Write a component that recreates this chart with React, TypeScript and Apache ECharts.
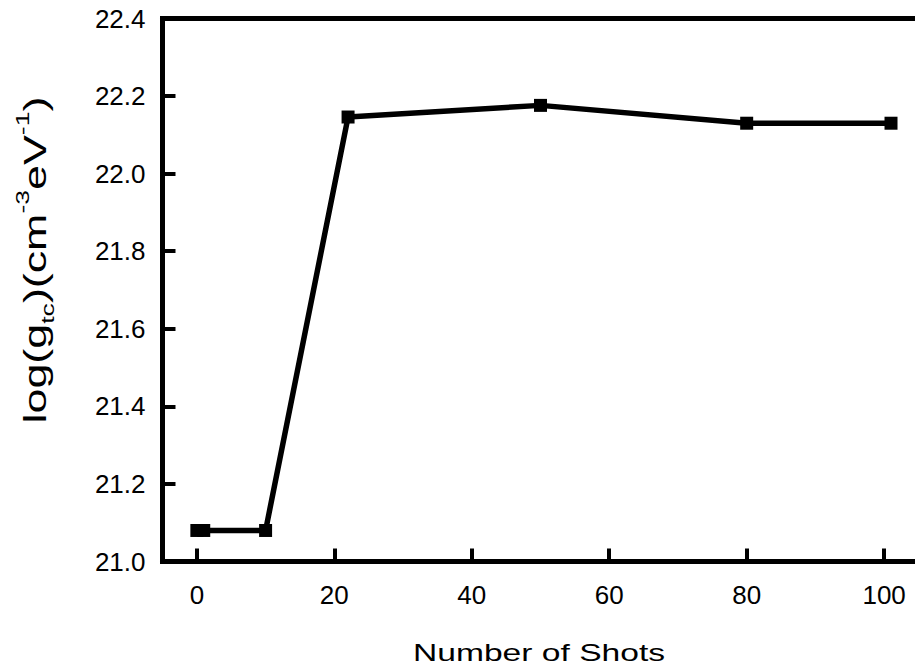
import React, { useEffect, useRef } from "react";
import * as echarts from "echarts";

const shots = [0, 1, 10, 22, 50, 80, 101];
const logGtc = [21.08, 21.08, 21.08, 22.146, 22.176, 22.13, 22.13];
const xTickValues = [0, 20, 40, 60, 80, 100];
const xTitle = "Number of Shots";
const yTitleRich = "{m|log(g}{sub|tc}{m|)(cm}{sup|-3}{m|eV}{sup|-1}{m|)}";

const FONT = "'Liberation Sans', Arial, sans-serif";

export default function App() {
  const ref = useRef<HTMLDivElement>(null);
  useEffect(() => {
    if (!ref.current) return;
    const chart = echarts.init(ref.current, undefined, { renderer: "svg" });
    const data = shots.map((s, i) => [s, logGtc[i]]);
    chart.setOption({
      animation: false,
      backgroundColor: "#ffffff",
      grid: {
        left: 162.5,
        top: 18.5,
        width: 756,
        height: 543,
        containLabel: false,
        outerBoundsMode: "none",
        show: true,
        borderColor: "#000",
        borderWidth: 5,
        backgroundColor: "transparent",
      },
      xAxis: {
        type: "value",
        min: -5,
        max: 105,
        axisLine: { show: true, onZero: false, lineStyle: { color: "#000", width: 5 } },
        splitLine: { show: false },
        axisTick: {
          show: true,
          inside: true,
          length: 13,
          customValues: xTickValues,
          lineStyle: { color: "#000", width: 4 },
        },
        axisLabel: {
          customValues: xTickValues,
          margin: 20,
          color: "#000",
          fontSize: 26,
          fontFamily: FONT,
        },
      },
      yAxis: {
        type: "value",
        min: 21.0,
        max: 22.4,
        interval: 0.2,
        axisLine: { show: true, onZero: false, lineStyle: { color: "#000", width: 5 } },
        splitLine: { show: false },
        axisTick: {
          show: true,
          inside: true,
          length: 13,
          lineStyle: { color: "#000", width: 4 },
        },
        axisLabel: {
          margin: 17,
          color: "#000",
          fontSize: 26,
          fontFamily: FONT,
          formatter: (v: number) => v.toFixed(1),
        },
      },
      series: [
        {
          type: "line",
          data,
          symbol: "rect",
          symbolSize: 13,
          lineStyle: { color: "#000", width: 5.5 },
          itemStyle: { color: "#000", borderWidth: 0 },
        },
      ],
      graphic: [
        {
          type: "text",
          x: 539,
          y: 653,
          scaleX: 1.4,
          style: {
            text: xTitle,
            font: `24px ${FONT}`,
            fill: "#000",
            align: "center",
            verticalAlign: "middle",
          },
        },
        {
          type: "text",
          x: 35,
          y: 260,
          rotation: Math.PI / 2,
          scaleX: 1.4,
          style: {
            text: yTitleRich,
            fill: "#000",
            align: "center",
            verticalAlign: "middle",
            rich: {
              m: { fontSize: 32, lineHeight: 44, fontFamily: FONT, fill: "#000" },
              sub: { fontSize: 19, lineHeight: 19, verticalAlign: "bottom", fontFamily: FONT, fill: "#000" },
              sup: { fontSize: 19, lineHeight: 19, verticalAlign: "top", fontFamily: FONT, fill: "#000" },
            },
          },
        },
      ],
    });
    return () => chart.dispose();
  }, []);
  return (
    <div
      ref={ref}
      style={{ position: "fixed", left: 0, top: 0, width: 915, height: 671, background: "#fff" }}
    />
  );
}
